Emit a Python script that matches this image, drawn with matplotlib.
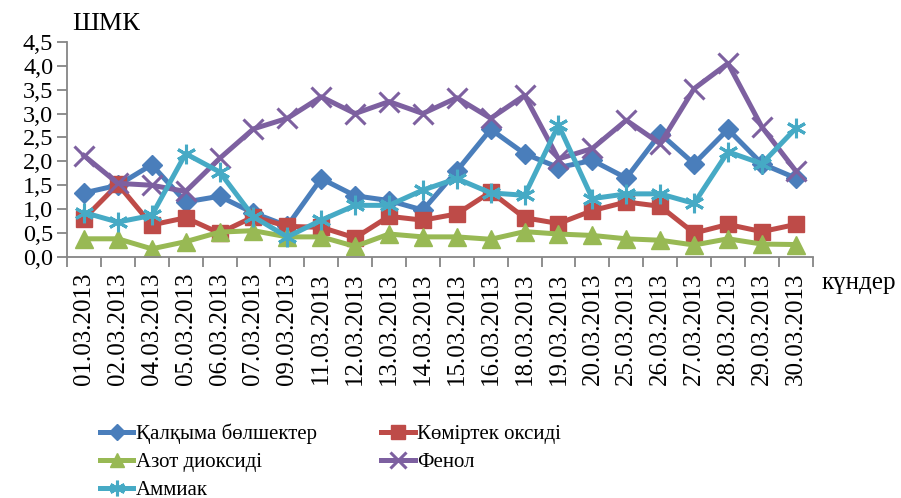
import matplotlib
matplotlib.use("Agg")
import matplotlib.pyplot as plt
import numpy as np

dates = ["01.03.2013", "02.03.2013", "04.03.2013", "05.03.2013", "06.03.2013",
         "07.03.2013", "09.03.2013", "11.03.2013", "12.03.2013", "13.03.2013",
         "14.03.2013", "15.03.2013", "16.03.2013", "18.03.2013", "19.03.2013",
         "20.03.2013", "25.03.2013", "26.03.2013", "27.03.2013", "28.03.2013",
         "29.03.2013", "30.03.2013"]

kalkyma = [1.34, 1.5, 1.93, 1.15, 1.27, 0.92, 0.65, 1.64, 1.28, 1.18, 0.98, 1.8,
           2.67, 2.16, 1.87, 2.02, 1.65, 2.58, 1.95, 2.67, 1.95, 1.65]
komirtek = [0.8, 1.52, 0.67, 0.82, 0.5, 0.84, 0.64, 0.62, 0.4, 0.85, 0.77, 0.9,
            1.36, 0.82, 0.7, 0.97, 1.15, 1.06, 0.5, 0.68, 0.53, 0.68]
azot = [0.38, 0.38, 0.17, 0.32, 0.52, 0.55, 0.42, 0.42, 0.22, 0.48, 0.42, 0.42,
        0.37, 0.53, 0.48, 0.45, 0.38, 0.35, 0.25, 0.38, 0.27, 0.26]
fenol = [2.12, 1.54, 1.5, 1.37, 2.06, 2.68, 2.9, 3.35, 3.0, 3.25, 3.0, 3.33,
         2.9, 3.38, 2.05, 2.27, 2.86, 2.37, 3.52, 4.05, 2.72, 1.8]
ammiak = [0.93, 0.73, 0.87, 2.16, 1.78, 0.84, 0.42, 0.77, 1.08, 1.08, 1.4, 1.64,
          1.34, 1.29, 2.76, 1.22, 1.32, 1.32, 1.12, 2.2, 1.95, 2.69]

names = ["Қалқыма бөлшектер", "Көміртек оксиді", "Азот диоксиді", "Фенол", "Аммиак"]
yticks = [0.0, 0.5, 1.0, 1.5, 2.0, 2.5, 3.0, 3.5, 4.0, 4.5]
ytick_labels = ["0,0", "0,5", "1,0", "1,5", "2,0", "2,5", "3,0", "3,5", "4,0", "4,5"]

plt.rcParams['font.family'] = 'serif'
plt.rcParams['font.serif'] = ['Liberation Serif', 'DejaVu Serif']

fig = plt.figure(figsize=(9.01, 4.98), dpi=100)
ax = fig.add_axes([0.0744, 0.484, 0.8276, 0.432])

x = np.arange(len(dates))
lw = 3.6
h_k, = ax.plot(x, kalkyma, color="#4A7EBB", lw=lw, marker="D", ms=10.5,
               mfc="#4A7EBB", mec="#4A7EBB", label=names[0])
h_m, = ax.plot(x, komirtek, color="#BE4B48", lw=lw, marker="s", ms=12,
               mfc="#BE4B48", mec="#BE4B48", label=names[1])
h_a, = ax.plot(x, azot, color="#98B954", lw=lw, marker="^", ms=13,
               mfc="#98B954", mec="#98B954", label=names[2])
h_f, = ax.plot(x, fenol, color="#7D60A0", lw=lw, marker="x", ms=14, mew=2.2,
               mec="#7D60A0", label=names[3])
h_am, = ax.plot(x, ammiak, color="#46AAC5", lw=lw, marker=(6, 2, 0), ms=14, mew=2.2,
                mec="#46AAC5", label=names[4])

ax.set_xlim(-0.5, len(dates) - 0.5)
ax.set_ylim(0, 4.5)
ax.set_yticks(yticks)
ax.set_yticklabels(ytick_labels, fontsize=17.5)
ax.set_xticks(x)
ax.set_xticklabels(dates, rotation=90, fontsize=18)
ax.set_xticks(np.arange(-0.5, len(dates), 1.0), minor=True)
ax.tick_params(axis='x', which='major', length=0, pad=11)
ax.tick_params(axis='x', which='minor', length=7, width=1.3, color="#868686", direction='out')
ax.tick_params(axis='y', length=7, width=1.3, color="#868686", direction='out', pad=3)
for s in ["top", "right"]:
    ax.spines[s].set_visible(False)
for s in ["left", "bottom"]:
    ax.spines[s].set_color("#868686")
    ax.spines[s].set_linewidth(1.3)

fig.text(0.080, 0.952, "ШМК", fontsize=19, ha="left", va="center")
fig.text(0.912, 0.432, "күндер", fontsize=18, ha="left", va="center")

leg = fig.legend([h_k, h_a, h_am, h_m, h_f],
                 [names[0], names[2], names[4], names[1], names[3]],
                 ncol=2, loc="upper left", bbox_to_anchor=(0.111, 0.150),
                 frameon=False, fontsize=15, handlelength=1.6, handletextpad=0.12,
                 columnspacing=3.1, labelspacing=0.42, borderpad=0, borderaxespad=0,
                 markerscale=0.8)

fig.savefig("out.png", dpi=100)
